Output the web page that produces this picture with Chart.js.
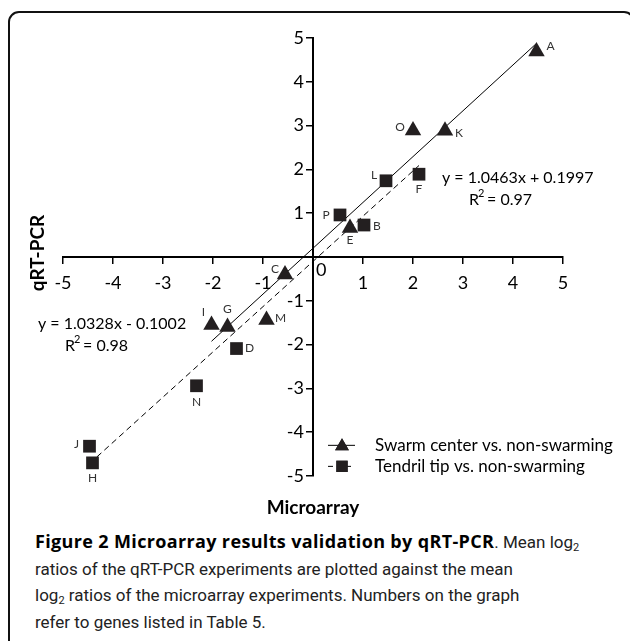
<!DOCTYPE html>
<html>
<head>
<meta charset="utf-8">
<script src="https://cdn.jsdelivr.net/npm/chart.js@4.4.1/dist/chart.umd.min.js"></script>
<style>
    html, body { margin: 0; padding: 0; background: #fff; width: 630px; height: 641px; overflow: hidden; }
    #marco { position: absolute; left: 8px; top: 11px; width: 627px; height: 660px; border: 2px solid #111; border-radius: 11px 11px 0 0; box-sizing: border-box; }
    #grafico { position: absolute; left: 0; top: 0; }
    #leyenda-fig { position: absolute; left: 35px; top: 528px; width: 600px; font-family: Roboto, "Noto Sans", sans-serif; font-size: 17px; line-height: 26.6px; color: #222; white-space: nowrap; }
    #leyenda-fig b { color: #000; font-family: "Open Sans", "Noto Sans", sans-serif; font-weight: 700; font-size: 18px; letter-spacing: 0.35px; }
    #leyenda-fig sub { font-size: 11px; line-height: 0; vertical-align: -3px; }
</style>
</head>
<body>
<div id="marco"></div>
<canvas id="grafico" width="630" height="520"></canvas>
<div id="leyenda-fig">
    <b>Figure 2 Microarray results validation by qRT-PCR</b>. Mean log<sub>2</sub><br>
    ratios of the qRT-PCR experiments are plotted against the mean<br>
    log<sub>2</sub> ratios of the microarray experiments. Numbers on the graph<br>
    refer to genes listed in Table 5.
</div>
<script>
// Swarm center vs. non-swarming (triángulos)
const genesCentro = ["A", "O", "K", "E", "C", "I", "G", "M"];
const microCentro = [4.47, 2.0, 2.64, 0.74, -0.56, -2.03, -1.71, -0.93];
const qpcrCentro = [4.69, 2.89, 2.88, 0.66, -0.40, -1.55, -1.60, -1.44];

// Tendril tip vs. non-swarming (cuadrados)
const genesPunta = ["F", "L", "P", "B", "D", "N", "J", "H"];
const microPunta = [2.12, 1.46, 0.54, 1.02, -1.53, -2.33, -4.47, -4.41];
const qpcrPunta = [1.89, 1.74, 0.96, 0.73, -2.09, -2.94, -4.32, -4.70];

const ticksEje = [-5, -4, -3, -2, -1, 0, 1, 2, 3, 4, 5];

const ajusteCentro = [1.0463, 0.1997];
const ajustePunta = [1.0328, -0.1002];

const FUENTE = "Lato, 'Open Sans', sans-serif";
const NEGRO = "#231f20";

// desplazamiento de cada letra respecto a su punto (px)
const posLetra = {
    A: [14, -5], O: [-13, -3], K: [14, 2], E: [0, 12], C: [-10, -5], I: [-8, -13], G: [0, -18], M: [14, -2],
    F: [0, 15], L: [-12, -6], P: [-14, 0], B: [13, 1], D: [13, 0], N: [0, 16], J: [-13, -2], H: [0, 15],
};

function puntos(xs, ys) {
    return xs.map((x, i) => ({ x: x, y: ys[i] }));
}

function recta(xs, [m, b]) {
    const x0 = Math.min(...xs), x1 = Math.max(...xs);
    return [{ x: x0, y: m * x0 + b }, { x: x1, y: m * x1 + b }];
}

const textos = {
    id: "textos",
    afterDatasetsDraw(chart) {
        const { ctx, chartArea: area, scales } = chart;
        const sx = scales.x, sy = scales.y;
        ctx.save();
        ctx.textBaseline = "middle";

        // letras de los genes
        ctx.font = "12px " + FUENTE;
        ctx.fillStyle = "#333";
        ctx.textAlign = "center";
        [[0, genesCentro], [1, genesPunta]].forEach(([d, nombres]) => {
            chart.getDatasetMeta(d).data.forEach((el, i) => {
                const [dx, dy] = posLetra[nombres[i]];
                ctx.fillText(nombres[i], el.x + dx, el.y + dy);
            });
        });

        // cero del origen
        ctx.fillStyle = "#000";
        ctx.font = "18px " + FUENTE;
        ctx.textAlign = "left";
        ctx.fillText("0", sx.getPixelForValue(0) + 3, sy.getPixelForValue(0) + 13);

        // ecuaciones
        const ecuacion = (txt, r2, x, y, xr) => {
            ctx.font = "16px " + FUENTE;
            ctx.textAlign = "left";
            ctx.fillText(txt, x, y);
            ctx.fillText("R", xr, y + 22);
            const w = ctx.measureText("R").width;
            ctx.font = "11px " + FUENTE;
            ctx.fillText("2", xr + w - 1, y + 15);
            ctx.font = "16px " + FUENTE;
            ctx.fillText(" = " + r2, xr + w + 4, y + 22);
        };
        ecuacion("y = 1.0463x + 0.1997", "0.97", sx.getPixelForValue(2.58), sy.getPixelForValue(1.8), sx.getPixelForValue(3.12));
        ecuacion("y = 1.0328x - 0.1002", "0.98", area.left - 25, sy.getPixelForValue(-1.53), area.left + 2);

        // leyenda
        const lx = sx.getPixelForValue(0.3), ly1 = sy.getPixelForValue(-4.3), ly2 = sy.getPixelForValue(-4.78);
        ctx.strokeStyle = "#000";
        ctx.lineWidth = 1;
        ctx.beginPath(); ctx.moveTo(lx, ly1); ctx.lineTo(lx + 27, ly1); ctx.stroke();
        ctx.setLineDash([5, 4]);
        ctx.beginPath(); ctx.moveTo(lx, ly2); ctx.lineTo(lx + 27, ly2); ctx.stroke();
        ctx.setLineDash([]);
        ctx.fillStyle = NEGRO;
        Chart.helpers.drawPoint(ctx, { pointStyle: "triangle", radius: 8, borderWidth: 0 }, lx + 14, ly1 + 1);
        ctx.fill();
        Chart.helpers.drawPoint(ctx, { pointStyle: "rect", radius: 8, borderWidth: 0 }, lx + 14, ly2);
        ctx.fill();
        ctx.fillStyle = "#000";
        ctx.font = "17px " + FUENTE;
        ctx.fillText("Swarm center vs. non-swarming", lx + 47, ly1);
        ctx.fillText("Tendril tip vs. non-swarming", lx + 47, ly2);

        // títulos de ejes
        ctx.font = "bold 19px " + FUENTE;
        ctx.textAlign = "center";
        ctx.fillText("Microarray", sx.getPixelForValue(0), area.bottom + 32);
        ctx.translate(area.left - 25, sy.getPixelForValue(0) - 4);
        ctx.rotate(-Math.PI / 2);
        ctx.fillText("qRT-PCR", 0, 0);
        ctx.restore();
    },
};

const ejeComun = {
    type: "linear",
    min: -5,
    max: 5,
    afterBuildTicks: (eje) => { eje.ticks = ticksEje.map((v) => ({ value: v })); },
    grid: { drawOnChartArea: false, drawTicks: true, tickLength: 6, color: "#000", lineWidth: 1.5 },
    border: { color: "#000", width: 2 },
};

new Chart(document.getElementById("grafico"), {
    type: "scatter",
    data: {
        datasets: [
            { label: "Swarm center vs. non-swarming", data: puntos(microCentro, qpcrCentro), pointStyle: "triangle", pointRadius: 9.5, backgroundColor: NEGRO, borderWidth: 0, order: 1 },
            { label: "Tendril tip vs. non-swarming", data: puntos(microPunta, qpcrPunta), pointStyle: "rect", pointRadius: 9, backgroundColor: NEGRO, borderWidth: 0, order: 1 },
            { type: "line", data: recta(microCentro, ajusteCentro), borderColor: "#000", borderWidth: 1, pointRadius: 0, order: 2 },
            { type: "line", data: recta(microPunta, ajustePunta), borderColor: "#000", borderWidth: 1, borderDash: [6, 4], pointRadius: 0, order: 2 },
        ],
    },
    options: {
        responsive: false,
        animation: false,
        layout: { padding: { left: 63, right: 67, top: 38, bottom: 44 } },
        plugins: { legend: { display: false }, tooltip: { enabled: false } },
        scales: {
            x: { ...ejeComun, position: { y: 0 }, ticks: { color: "#000", font: { family: FUENTE, size: 18 }, padding: 9, maxRotation: 0, callback: (v) => (v === 0 ? "" : v) } },
            // el espacio final separa la etiqueta del eje
            y: { ...ejeComun, position: { x: 0 }, ticks: { color: "#000", font: { family: FUENTE, size: 18 }, callback: (v) => (v === 0 ? "" : v + "\u2002") } },
        },
    },
    plugins: [textos],
});
</script>
</body>
</html>
